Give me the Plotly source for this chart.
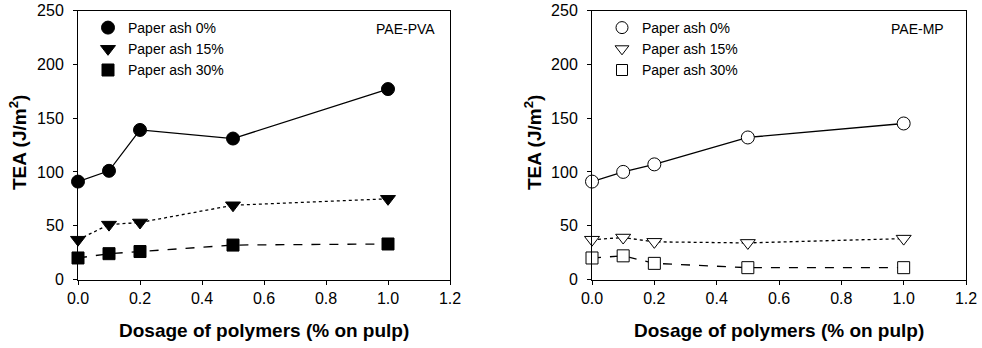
import plotly.graph_objects as go

dosage = [0.0, 0.1, 0.2, 0.5, 1.0]
series_names = ["Paper ash 0%", "Paper ash 15%", "Paper ash 30%"]

pva_ash0 = [91, 101, 139, 131, 177]
pva_ash15 = [37, 51, 53, 69, 75]
pva_ash30 = [20, 24, 26, 32, 33]

mp_ash0 = [91, 100, 107, 132, 145]
mp_ash15 = [37, 39, 35, 34, 38]
mp_ash30 = [20, 22, 15, 11, 11]

panel_labels = ["PAE-PVA", "PAE-MP"]
x_title = "Dosage of polymers (% on pulp)"
y_title = "TEA (J/m<sup>2</sup>)"
x_ticks = [0.0, 0.2, 0.4, 0.6, 0.8, 1.0, 1.2]
y_ticks = [0, 50, 100, 150, 200, 250]

FONT = "Liberation Sans, Arial, sans-serif"
W, H = 982, 348

dashes = ["solid", "dot", "dash"]
filled_symbols = ["circle", "triangle-down", "square"]
sizes = [13, 13, 12]

fig = go.Figure()

panels = [
    ([pva_ash0, pva_ash15, pva_ash30], "x", "y", "legend", True),
    ([mp_ash0, mp_ash15, mp_ash30], "x2", "y2", "legend2", False),
]

for data, xa, ya, lg, filled in panels:
    fill = "black" if filled else "white"
    for i, vals in enumerate(data):
        fig.add_trace(go.Scatter(
            x=dosage, y=vals, xaxis=xa, yaxis=ya, mode="lines+markers",
            line=dict(color="black", width=1.3, dash=dashes[i]),
            marker=dict(symbol=filled_symbols[i], size=sizes[i], color=fill,
                        line=dict(color="black", width=1)),
            cliponaxis=False, showlegend=False,
        ))
    for i, name in enumerate(series_names):
        fig.add_trace(go.Scatter(
            x=[None], y=[None], xaxis=xa, yaxis=ya, mode="markers", name=name,
            marker=dict(symbol=filled_symbols[i], size=sizes[i] if filled else sizes[i] - 1,
                        color=fill, line=dict(color="black", width=1)),
            legend=lg, showlegend=True,
        ))

xd1 = [78 / W, 450 / W]
xd2 = [592 / W, 966 / W]
yd = [1 - 279.5 / H, 1 - 10.5 / H]

axis_common = dict(
    showline=True, linecolor="black", linewidth=1, mirror=True,
    ticks="outside", ticklen=4, tickcolor="black", tickwidth=1,
    showgrid=False, zeroline=False, automargin=False,
    tickfont=dict(family=FONT, size=16, color="black"),
)

legend_common = dict(xanchor="left", yanchor="top", bgcolor="rgba(0,0,0,0)",
                     font=dict(family=FONT, size=14, color="black"),
                     tracegroupgap=0, itemwidth=30)

fig.update_layout(
    width=W, height=H, margin=dict(l=0, r=0, t=0, b=0, autoexpand=False),
    paper_bgcolor="white", plot_bgcolor="white",
    font=dict(family=FONT, color="black"),
    xaxis=dict(domain=xd1, range=[0, 1.2], tickvals=x_ticks, ticktext=[f"{v:.1f}" for v in x_ticks], anchor="y", **axis_common),
    yaxis=dict(domain=yd, range=[0, 250], tickvals=y_ticks, anchor="x", ticklabelstandoff=6, **axis_common),
    xaxis2=dict(domain=xd2, range=[0, 1.2], tickvals=x_ticks, ticktext=[f"{v:.1f}" for v in x_ticks], anchor="y2", **axis_common),
    yaxis2=dict(domain=yd, range=[0, 250], tickvals=y_ticks, anchor="x2", ticklabelstandoff=6, **axis_common),
    legend=dict(x=88 / W, y=1 - 12 / H, **legend_common),
    legend2=dict(x=602 / W, y=1 - 12 / H, **legend_common),
)

annos = []
for lbl, xr in zip(panel_labels, [437, 946]):
    annos.append(dict(text=lbl, x=xr / W, y=1 - 29 / H, xref="paper", yref="paper",
                      xanchor="right", yanchor="middle", showarrow=False,
                      font=dict(family=FONT, size=14, color="black")))
for xc in [264, 779]:
    annos.append(dict(text="<b>" + x_title + "</b>", x=xc / W, y=1 - 330 / H, xref="paper", yref="paper",
                      xanchor="center", yanchor="middle", showarrow=False,
                      font=dict(family=FONT, size=19, color="black")))
for xc in [18, 533]:
    annos.append(dict(text="<b>" + y_title + "</b>", x=xc / W, y=1 - 143 / H, xref="paper", yref="paper",
                      xanchor="center", yanchor="middle", showarrow=False, textangle=-90,
                      font=dict(family=FONT, size=19, color="black")))
fig.update_layout(annotations=annos)

fig.write_html("out.html")
